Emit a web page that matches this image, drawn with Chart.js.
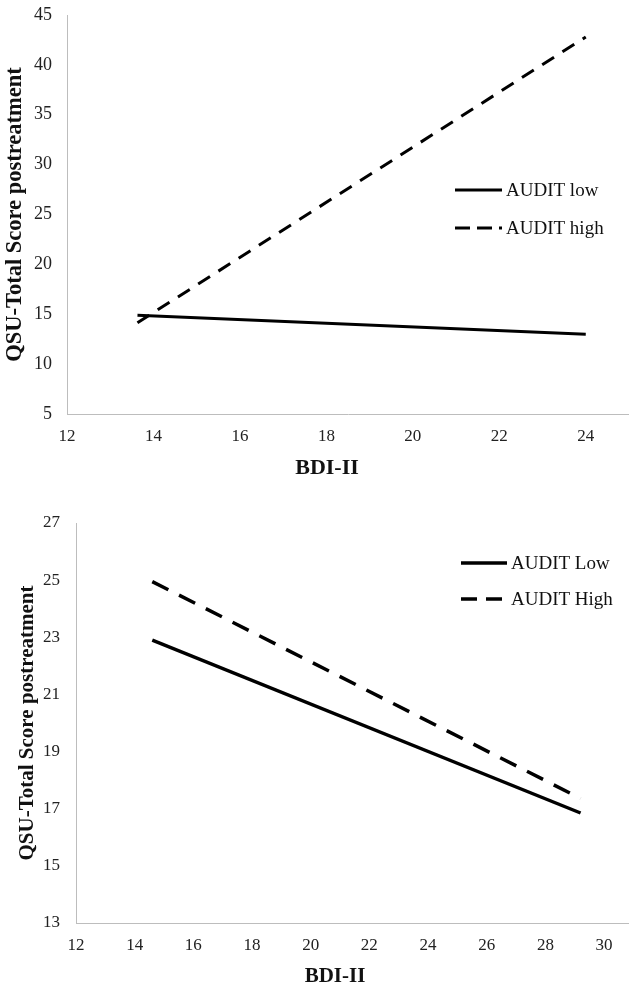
<!DOCTYPE html>
<html>
<head>
<meta charset="utf-8">
<script src="https://cdn.jsdelivr.net/npm/chart.js@4"></script>
<style>
  html, body { margin: 0; padding: 0; background: #fff; }
  .box { position: relative; width: 629px; }
  #b1 { height: 480px; }
  #b2 { height: 508px; }
</style>
</head>
<body>
<div class="box" id="b1"><canvas id="chart1"></canvas></div>
<div class="box" id="b2"><canvas id="chart2"></canvas></div>
<script>
// top panel
const topX = [13.63, 24];
const topLow = [14.9, 13.0];
const topHigh = [14.15, 42.8];
const topLabels = ["AUDIT low", "AUDIT high"];

// bottom panel
const botX = [14.6, 29.2];
const botLow = [22.9, 16.85];
const botHigh = [24.95, 17.36];
const botLabels = ["AUDIT Low", "AUDIT High"];

const yTitle = "QSU-Total Score postreatment";
const xTitle = "BDI-II";

const SERIF = "'Liberation Serif', 'Times New Roman', serif";
Chart.defaults.font.family = SERIF;
Chart.defaults.color = "#222";

function pts(xs, ys) { return xs.map((x, i) => ({ x: x, y: ys[i] })); }

// legend inside the plot + x title a bit left of centre, like the original figure
const innerLegend = {
    id: "innerLegend",
    afterDraw(chart, args, opts) {
        const c = chart.ctx;
        c.save();
        chart.data.datasets.forEach((ds, i) => {
            const y = opts.y + i * opts.gap;
            c.beginPath();
            c.setLineDash(opts.dash[i]);
            c.lineWidth = ds.borderWidth;
            c.strokeStyle = ds.borderColor;
            c.moveTo(opts.x, y);
            c.lineTo(opts.x + opts.len, y);
            c.stroke();
            c.setLineDash([]);
            c.fillStyle = "#111";
            c.font = "19px " + SERIF;
            c.textBaseline = "middle";
            c.fillText(ds.label, opts.x + opts.len + 4, y + 1);
        });
        // x axis title
        c.font = "bold " + opts.xtSize + "px " + SERIF;
        c.textAlign = "center";
        c.textBaseline = "middle";
        c.fillStyle = "#111";
        c.fillText(xTitle, opts.xtX, opts.xtY);
        c.restore();
    }
};

function makeChart(id, cfg) {
    return new Chart(document.getElementById(id), {
        type: "line",
        data: {
            datasets: [
                { label: cfg.labels[0], data: pts(cfg.xs, cfg.low), borderColor: "#000", borderWidth: cfg.lw, pointRadius: 0, fill: false },
                { label: cfg.labels[1], data: pts(cfg.xs, cfg.high), borderColor: "#000", borderWidth: cfg.lw, borderDash: cfg.dash, pointRadius: 0, fill: false }
            ]
        },
        options: {
            responsive: true,
            maintainAspectRatio: false,
            animation: false,
            layout: { padding: { top: cfg.top, right: 0, left: 0, bottom: 0 } },
            plugins: {
                legend: { display: false },
                tooltip: { enabled: false },
                innerLegend: cfg.legend
            },
            scales: {
                x: {
                    type: "linear",
                    min: 12, max: cfg.xMax,
                    grid: { display: false, drawTicks: false },
                    border: { color: "#bdbdbd", width: 1 },
                    ticks: { stepSize: 2, includeBounds: false, padding: 12, font: { size: 17 }, color: "#222" },
                    title: { display: false },
                    afterFit: s => { s.height = cfg.xH; s.paddingLeft = 0; s.paddingRight = 0; }
                },
                y: {
                    min: cfg.yMin, max: cfg.yMax,
                    grid: { display: false, drawTicks: false },
                    border: { color: "#bdbdbd", width: 1 },
                    ticks: { stepSize: cfg.yStep, padding: cfg.yPad, font: { size: cfg.tick }, color: "#222" },
                    title: { display: true, text: yTitle, font: { size: cfg.ytSize, weight: "bold" }, color: "#111", padding: { top: cfg.tPad, bottom: 0 } },
                    afterFit: s => { s.width = cfg.yW; s.paddingTop = 0; s.paddingBottom = 0; }
                }
            }
        },
        plugins: [innerLegend]
    });
}

makeChart("chart1", {
    xs: topX, low: topLow, high: topHigh, labels: topLabels,
    dash: [14, 10], lw: 3, xMax: 25, yMin: 5, yMax: 45, yStep: 5,
    top: 15, xH: 66, yW: 67, yPad: 15, tPad: 2, tick: 18, ytSize: 22.5,
    legend: { x: 455, y: 190, gap: 38, len: 47, dash: [[], [15, 7]], xtX: 327, xtY: 468, xtSize: 22 }
});

makeChart("chart2", {
    xs: botX, low: botLow, high: botHigh, labels: botLabels,
    dash: [18, 12], lw: 3.5, xMax: 30.85, yMin: 13, yMax: 27, yStep: 2,
    top: 43, xH: 65, yW: 76, yPad: 16, tPad: 15, tick: 17, ytSize: 21,
    legend: { x: 461, y: 83, gap: 36, len: 46, dash: [[], [16, 9]], xtX: 335, xtY: 497, xtSize: 21 }
});
</script>
</body>
</html>
